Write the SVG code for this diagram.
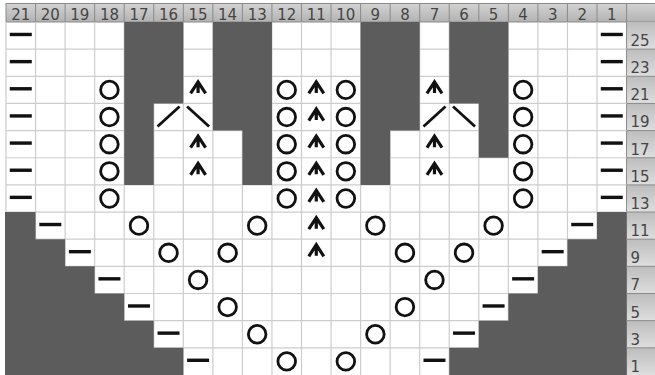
<svg xmlns="http://www.w3.org/2000/svg" xmlns:xlink="http://www.w3.org/1999/xlink" width="655" height="375" viewBox="0 0 655 375">
<style>
.grid{stroke:#cdcdcd;stroke-width:1.2;fill:none}
.blk{fill:#5c5c5c}
.hdrtxt{font-family:"DejaVu Sans","Liberation Sans",sans-serif;font-size:15px;fill:#454545;text-anchor:middle}
.labtxt{font-family:"DejaVu Sans","Liberation Sans",sans-serif;font-size:15px;fill:#454545}
.sep{stroke:#8a8a8a;stroke-width:1;fill:none}
.sym{stroke:#111;fill:none;stroke-width:2.8}
.arw{stroke:#111;fill:none;stroke-width:3.2;stroke-linejoin:miter}
</style>
<defs>
<linearGradient id="hdr" x1="0" y1="0" x2="0" y2="1">
<stop offset="0" stop-color="#d4d4d4"/>
<stop offset="1" stop-color="#b2b2b2"/>
</linearGradient>
<linearGradient id="lab" x1="0" y1="0" x2="0" y2="1">
<stop offset="0" stop-color="#bdbdbd"/>
<stop offset="1" stop-color="#dedede"/>
</linearGradient>
<rect id="d" x="-11" y="-2.8" width="22" height="3.4" fill="#111"/>
<circle id="o" cx="0" cy="0" r="8.8" class="sym"/>
<path id="a" d="M-7.5,3.5 L0,-8 L7.5,3.5 M0,-7 V3" class="arw"/>
<path id="sl" d="M-11,9.5 L11,-10.5" class="sym"/>
<path id="bs" d="M-11,-10.5 L11,9.5" class="sym"/>
</defs>
<rect x="0" y="0" width="655" height="375" fill="#ffffff"/>

<g id="header">
<rect x="6" y="3" width="649" height="19" fill="url(#hdr)"/>
<path class="sep" d="M6,3.5 H655 M6,22 H655 M6,3 V22 M35.55,3 V22 M65.1,3 V22 M94.65,3 V22 M124.2,3 V22 M153.75,3 V22 M183.3,3 V22 M212.85,3 V22 M242.4,3 V22 M271.95,3 V22 M301.5,3 V22 M331.05,3 V22 M360.6,3 V22 M390.15,3 V22 M419.7,3 V22 M449.25,3 V22 M478.8,3 V22 M508.35,3 V22 M537.9,3 V22 M567.45,3 V22 M597,3 V22 M626.55,3 V22"/>
<text class="hdrtxt" x="20.78" y="19.5">21</text>
<text class="hdrtxt" x="50.33" y="19.5">20</text>
<text class="hdrtxt" x="79.88" y="19.5">19</text>
<text class="hdrtxt" x="109.43" y="19.5">18</text>
<text class="hdrtxt" x="138.98" y="19.5">17</text>
<text class="hdrtxt" x="168.53" y="19.5">16</text>
<text class="hdrtxt" x="198.08" y="19.5">15</text>
<text class="hdrtxt" x="227.63" y="19.5">14</text>
<text class="hdrtxt" x="257.18" y="19.5">13</text>
<text class="hdrtxt" x="286.73" y="19.5">12</text>
<text class="hdrtxt" x="316.28" y="19.5">11</text>
<text class="hdrtxt" x="345.83" y="19.5">10</text>
<text class="hdrtxt" x="375.38" y="19.5">9</text>
<text class="hdrtxt" x="404.93" y="19.5">8</text>
<text class="hdrtxt" x="434.48" y="19.5">7</text>
<text class="hdrtxt" x="464.03" y="19.5">6</text>
<text class="hdrtxt" x="493.58" y="19.5">5</text>
<text class="hdrtxt" x="523.13" y="19.5">4</text>
<text class="hdrtxt" x="552.68" y="19.5">3</text>
<text class="hdrtxt" x="582.23" y="19.5">2</text>
<text class="hdrtxt" x="611.78" y="19.5">1</text>
</g>

<g id="rowlabels">
<rect x="626.55" y="22" width="28.45" height="27.15" fill="url(#lab)"/>
<rect x="626.55" y="49.15" width="28.45" height="27.15" fill="url(#lab)"/>
<rect x="626.55" y="76.3" width="28.45" height="27.15" fill="url(#lab)"/>
<rect x="626.55" y="103.45" width="28.45" height="27.15" fill="url(#lab)"/>
<rect x="626.55" y="130.6" width="28.45" height="27.15" fill="url(#lab)"/>
<rect x="626.55" y="157.75" width="28.45" height="27.15" fill="url(#lab)"/>
<rect x="626.55" y="184.9" width="28.45" height="27.15" fill="url(#lab)"/>
<rect x="626.55" y="212.05" width="28.45" height="27.15" fill="url(#lab)"/>
<rect x="626.55" y="239.2" width="28.45" height="27.15" fill="url(#lab)"/>
<rect x="626.55" y="266.35" width="28.45" height="27.15" fill="url(#lab)"/>
<rect x="626.55" y="293.5" width="28.45" height="27.15" fill="url(#lab)"/>
<rect x="626.55" y="320.65" width="28.45" height="27.15" fill="url(#lab)"/>
<rect x="626.55" y="347.8" width="28.45" height="27.15" fill="url(#lab)"/>
<path class="sep" d="M626.55,22 V375 M626.55,49.15 H655 M626.55,76.3 H655 M626.55,103.45 H655 M626.55,130.6 H655 M626.55,157.75 H655 M626.55,184.9 H655 M626.55,212.05 H655 M626.55,239.2 H655 M626.55,266.35 H655 M626.55,293.5 H655 M626.55,320.65 H655 M626.55,347.8 H655"/>
<text class="labtxt" x="630.5" y="46">25</text>
<text class="labtxt" x="630.5" y="73.1">23</text>
<text class="labtxt" x="630.5" y="100.3">21</text>
<text class="labtxt" x="630.5" y="127.4">19</text>
<text class="labtxt" x="630.5" y="154.6">17</text>
<text class="labtxt" x="630.5" y="181.7">15</text>
<text class="labtxt" x="630.5" y="208.9">13</text>
<text class="labtxt" x="630.5" y="236">11</text>
<text class="labtxt" x="630.5" y="263.2">9</text>
<text class="labtxt" x="630.5" y="290.3">7</text>
<text class="labtxt" x="630.5" y="317.5">5</text>
<text class="labtxt" x="630.5" y="344.6">3</text>
<text class="labtxt" x="630.5" y="371.8">1</text>
</g>

<g id="grid">
<path class="grid" d="M6,22 V375 M35.55,22 V375 M65.1,22 V375 M94.65,22 V375 M124.2,22 V375 M153.75,22 V375 M183.3,22 V375 M212.85,22 V375 M242.4,22 V375 M271.95,22 V375 M301.5,22 V375 M331.05,22 V375 M360.6,22 V375 M390.15,22 V375 M419.7,22 V375 M449.25,22 V375 M478.8,22 V375 M508.35,22 V375 M537.9,22 V375 M567.45,22 V375 M597,22 V375 M6,49.15 H626.55 M6,76.3 H626.55 M6,103.45 H626.55 M6,130.6 H626.55 M6,157.75 H626.55 M6,184.9 H626.55 M6,212.05 H626.55 M6,239.2 H626.55 M6,266.35 H626.55 M6,293.5 H626.55 M6,320.65 H626.55 M6,347.8 H626.55"/>
</g>

<g id="nostitch">
<path class="blk" d="M124.2,22 H183.3 V103.45 H153.75 V184.9 H124.2 Z"/>
<path class="blk" d="M212.85,22 H271.95 V184.9 H242.4 V130.6 H212.85 Z"/>
<path class="blk" d="M360.6,22 H419.7 V130.6 H390.15 V184.9 H360.6 Z"/>
<path class="blk" d="M449.25,22 H508.35 V157.75 H478.8 V103.45 H449.25 Z"/>
<path class="blk" d="M5,212.05 H35.55 V239.2 H65.1 V266.35 H94.65 V293.5 H124.2 V320.65 H153.75 V347.8 H183.3 V375 H5 Z"/>
<path class="blk" d="M626.55,212.05 H597 V239.2 H567.45 V266.35 H537.9 V293.5 H508.35 V320.65 H478.8 V347.8 H449.25 V375 H626.55 Z"/>
</g>

<g id="purl">
<use href="#d" x="20.78" y="35.58"/><use href="#d" x="20.78" y="62.73"/><use href="#d" x="20.78" y="89.88"/><use href="#d" x="20.78" y="117.03"/><use href="#d" x="20.78" y="144.18"/><use href="#d" x="20.78" y="171.33"/><use href="#d" x="20.78" y="198.48"/>
<use href="#d" x="611.78" y="35.58"/><use href="#d" x="611.78" y="62.73"/><use href="#d" x="611.78" y="89.88"/><use href="#d" x="611.78" y="117.03"/><use href="#d" x="611.78" y="144.18"/><use href="#d" x="611.78" y="171.33"/><use href="#d" x="611.78" y="198.48"/>
<use href="#d" x="50.33" y="225.63"/><use href="#d" x="582.23" y="225.63"/>
<use href="#d" x="79.88" y="252.78"/><use href="#d" x="552.68" y="252.78"/>
<use href="#d" x="109.43" y="279.93"/><use href="#d" x="523.13" y="279.93"/>
<use href="#d" x="138.98" y="307.08"/><use href="#d" x="493.58" y="307.08"/>
<use href="#d" x="168.53" y="334.23"/><use href="#d" x="464.03" y="334.23"/>
<use href="#d" x="198.08" y="361.38"/><use href="#d" x="434.48" y="361.38"/>
</g>

<g id="yarnovers">
<use href="#o" x="109.43" y="89.88"/><use href="#o" x="109.43" y="117.03"/><use href="#o" x="109.43" y="144.18"/><use href="#o" x="109.43" y="171.33"/><use href="#o" x="109.43" y="198.48"/>
<use href="#o" x="286.73" y="89.88"/><use href="#o" x="286.73" y="117.03"/><use href="#o" x="286.73" y="144.18"/><use href="#o" x="286.73" y="171.33"/><use href="#o" x="286.73" y="198.48"/>
<use href="#o" x="345.83" y="89.88"/><use href="#o" x="345.83" y="117.03"/><use href="#o" x="345.83" y="144.18"/><use href="#o" x="345.83" y="171.33"/><use href="#o" x="345.83" y="198.48"/>
<use href="#o" x="523.13" y="89.88"/><use href="#o" x="523.13" y="117.03"/><use href="#o" x="523.13" y="144.18"/><use href="#o" x="523.13" y="171.33"/><use href="#o" x="523.13" y="198.48"/>
<use href="#o" x="138.98" y="225.63"/><use href="#o" x="257.18" y="225.63"/><use href="#o" x="375.38" y="225.63"/><use href="#o" x="493.58" y="225.63"/>
<use href="#o" x="168.53" y="252.78"/><use href="#o" x="227.63" y="252.78"/><use href="#o" x="404.93" y="252.78"/><use href="#o" x="464.03" y="252.78"/>
<use href="#o" x="198.08" y="279.93"/><use href="#o" x="434.48" y="279.93"/>
<use href="#o" x="227.63" y="307.08"/><use href="#o" x="404.93" y="307.08"/>
<use href="#o" x="257.18" y="334.23"/><use href="#o" x="375.38" y="334.23"/>
<use href="#o" x="286.73" y="361.38"/><use href="#o" x="345.83" y="361.38"/>
</g>

<g id="decreases">
<use href="#a" x="198.08" y="89.88"/><use href="#a" x="198.08" y="144.18"/><use href="#a" x="198.08" y="171.33"/>
<use href="#a" x="434.48" y="89.88"/><use href="#a" x="434.48" y="144.18"/><use href="#a" x="434.48" y="171.33"/>
<use href="#a" x="316.28" y="89.88"/><use href="#a" x="316.28" y="117.03"/><use href="#a" x="316.28" y="144.18"/><use href="#a" x="316.28" y="171.33"/><use href="#a" x="316.28" y="198.48"/><use href="#a" x="316.28" y="225.63"/><use href="#a" x="316.28" y="252.78"/>
<use href="#sl" x="168.53" y="117.03"/><use href="#bs" x="198.08" y="117.03"/>
<use href="#sl" x="434.48" y="117.03"/><use href="#bs" x="464.03" y="117.03"/>
</g>
</svg>
